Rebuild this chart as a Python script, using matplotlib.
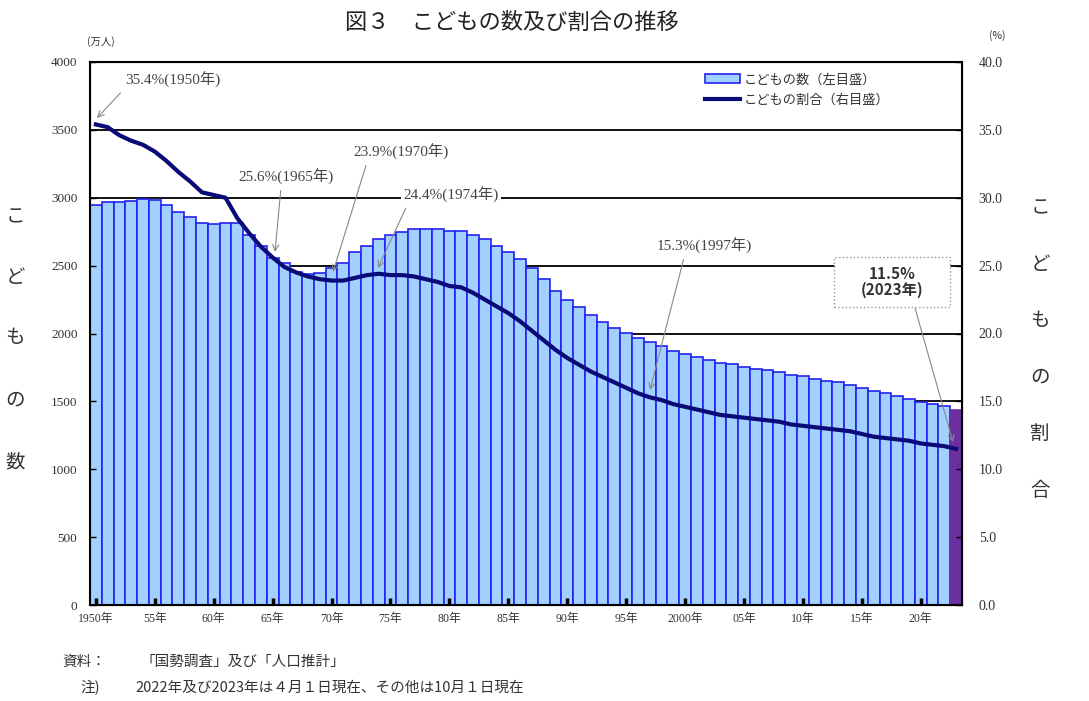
import numpy as np
import matplotlib
matplotlib.use("Agg")
import matplotlib.pyplot as plt
from matplotlib.patches import Rectangle

# Children (under 15) in Japan, 1950-2023
years = list(range(1950, 2024))
children = [2943, 2966, 2966, 2978, 2989, 2980, 2947, 2893, 2856, 2812,
            2807, 2812, 2812, 2726, 2647, 2553, 2517, 2451, 2436, 2443,
            2482, 2517, 2603, 2647, 2694, 2726, 2750, 2770, 2770, 2770,
            2757, 2757, 2726, 2694, 2647, 2603, 2547, 2480, 2401, 2316,
            2247, 2193, 2136, 2082, 2038, 2001, 1964, 1940, 1908, 1873,
            1849, 1829, 1805, 1785, 1773, 1751, 1738, 1731, 1719, 1697,
            1687, 1665, 1652, 1640, 1621, 1596, 1576, 1564, 1542, 1520,
            1498, 1481, 1466, 1436]
ratio = [35.4, 35.2, 34.6, 34.2, 33.9, 33.4, 32.7, 31.9, 31.2, 30.4,
         30.2, 30.0, 28.5, 27.4, 26.4, 25.6, 24.9, 24.5, 24.2, 24.0,
         23.9, 23.9, 24.1, 24.3, 24.4, 24.3, 24.3, 24.2, 24.0, 23.8,
         23.5, 23.4, 23.0, 22.5, 22.0, 21.5, 20.9, 20.2, 19.5, 18.8,
         18.2, 17.7, 17.2, 16.8, 16.4, 16.0, 15.6, 15.3, 15.1, 14.8,
         14.6, 14.4, 14.2, 14.0, 13.9, 13.8, 13.7, 13.6, 13.5, 13.3,
         13.2, 13.1, 13.0, 12.9, 12.8, 12.6, 12.4, 12.3, 12.2, 12.1,
         11.9, 11.8, 11.7, 11.5]
tick_years = list(range(1950, 2021, 5))
tick_labels = ["1950年", "55年", "60年", "65年", "70年", "75年", "80年", "85年",
               "90年", "95年", "2000年", "05年", "10年", "15年", "20年"]

# annotated years and their labels
notes = [(1950, "35.4%(1950年)"), (1965, "25.6%(1965年)"), (1970, "23.9%(1970年)"),
         (1974, "24.4%(1974年)"), (1997, "15.3%(1997年)")]

JP = ["Noto Sans CJK JP", "DejaVu Sans"]
SERIF = ["Liberation Serif", "Noto Sans CJK JP"]
TXT = "#333333"

W, H = 1089, 701
fig = plt.figure(figsize=(W / 100, H / 100), dpi=100)
ax = fig.add_axes([90 / W, 1 - 605 / H, 872 / W, 543 / H])

x = np.arange(len(years))
colors = ["#A2D0FF"] * (len(years) - 1) + ["#6B2FA0"]
edges = ["#2323F0"] * (len(years) - 1) + ["#6B2FA0"]
bars = ax.bar(x, children, width=1.0, color=colors, edgecolor=edges, linewidth=1.2,
              zorder=1, label="こどもの数（左目盛）")

for v in range(1500, 4000, 500):
    ax.axhline(v, color="black", lw=1.3, zorder=0.5)

ax.set_xlim(-0.5, len(years) - 0.5)
ax.set_ylim(0, 4000)
ax.set_yticks(range(0, 4001, 500))
ax.set_yticklabels([str(v) for v in range(0, 4001, 500)], family=SERIF,
                   fontsize=9.5, color=TXT)
ax.set_xticks([years.index(y) for y in tick_years])
ax.set_xticklabels(tick_labels, family=SERIF, fontsize=8.5, color=TXT)
ax.tick_params(axis="x", direction="in", length=5, width=2.5, color="black", pad=6)
ax.tick_params(axis="y", direction="in", length=4, width=1, pad=9)
for s in ax.spines.values():
    s.set_linewidth(1.5)

ax2 = ax.twinx()
ln, = ax2.plot(x, ratio, color="#0A0A78", lw=3, label="こどもの割合（右目盛）", zorder=3)
ax2.set_ylim(0, 40)
ax2.set_yticks(np.arange(0, 40.1, 5))
ax2.set_yticklabels([f"{v:.1f}" for v in np.arange(0, 40.1, 5)], family=SERIF,
                    fontsize=10, color=TXT)
ax2.tick_params(axis="y", direction="in", length=4, width=1, pad=12)
ax2.set_xlim(-0.5, len(years) - 0.5)


def px(xp, yp):
    return ((xp - 90) / 872 * len(years) - 0.5, (605 - yp) / 543 * 40)


text_pos = [(125, 80, "left", (0.0, 0.0)), (286, 177, "center", (0.45, 0.0)),
            (401, 152, "center", (0.15, 0.0)), (451, 195, "center", (0.05, 0.0)),
            (704, 246, "center", (0.3, 0.0))]
tips = [(97, 118), (275, 252), (333, 272), (378, 268), (650, 390)]
for (yr, label), (tx, ty, ha, rel), tip in zip(notes, text_pos, tips):
    bbox = dict(fc="white", ec="none", pad=2) if yr == 1974 else None
    ax2.annotate(label, xy=px(*tip), xytext=px(tx, ty), ha=ha, va="center",
                 family=SERIF, fontsize=11, color="#444444", bbox=bbox,
                 arrowprops=dict(arrowstyle="->", color="#888888", lw=0.8,
                                 relpos=rel, shrinkA=2, shrinkB=0))

# boxed label for the latest year
x0, y0 = px(834, 307)
x1, y1 = px(950, 257)
ax2.add_patch(Rectangle((x0, y0), x1 - x0, y1 - y0, fc="white", ec="#999999",
                        ls=":", lw=1, zorder=4))
cx, cy = px(892, 282)
ax2.text(cx, cy, "11.5%\n(2023年)", ha="center", va="center", family=JP,
         fontsize=11, fontweight="bold", color="#333333", linespacing=1.05, zorder=5)
ax2.annotate("", xy=px(953, 442), xytext=px(915, 308),
             arrowprops=dict(arrowstyle="->", color="#888888", lw=0.8,
                             shrinkA=0, shrinkB=0))

leg = ax2.legend([bars, ln], ["こどもの数（左目盛）", "こどもの割合（右目盛）"],
                 loc="upper left", bbox_to_anchor=((700 - 90) / 872, 1 - 6 / 543),
                 frameon=False, prop={"family": JP, "size": 9.5},
                 handlelength=2.6, handletextpad=0.3, labelspacing=0.55,
                 borderaxespad=0)
for t in leg.get_texts():
    t.set_color(TXT)

fig.text(512 / W, 1 - 22 / H, "図３　こどもの数及び割合の推移", family=JP,
         fontsize=16, ha="center", va="center", color="#222222")
fig.text(101 / W, 1 - 42 / H, "(万人)", family=JP, fontsize=7.5, ha="center",
         va="center", color=TXT)
fig.text(997 / W, 1 - 36 / H, "(%)", family=JP, fontsize=7.5, ha="center",
         va="center", color=TXT)

for ch, yp in zip("こどもの数", [217, 277, 337, 400, 462]):
    fig.text(15 / W, 1 - yp / H, ch, family=JP, fontsize=14, ha="center",
             va="center", color=TXT)
for ch, yp in zip("こどもの割合", [208, 265, 320, 377, 433, 490]):
    fig.text(1040 / W, 1 - yp / H, ch, family=JP, fontsize=14, ha="center",
             va="center", color=TXT)

fig.text(62 / W, 1 - 662 / H, "資料：", family=JP, fontsize=10.5, va="center", color=TXT)
fig.text(140 / W, 1 - 662 / H, "「国勢調査」及び「人口推計」", family=JP, fontsize=10.5,
         va="center", color=TXT)
fig.text(80 / W, 1 - 688 / H, "注)", family=JP, fontsize=10.5, va="center", color=TXT)
fig.text(135 / W, 1 - 688 / H, "2022年及び2023年は４月１日現在、その他は10月１日現在",
         family=JP, fontsize=10.5, va="center", color=TXT)

fig.savefig("out.png", dpi=100)
